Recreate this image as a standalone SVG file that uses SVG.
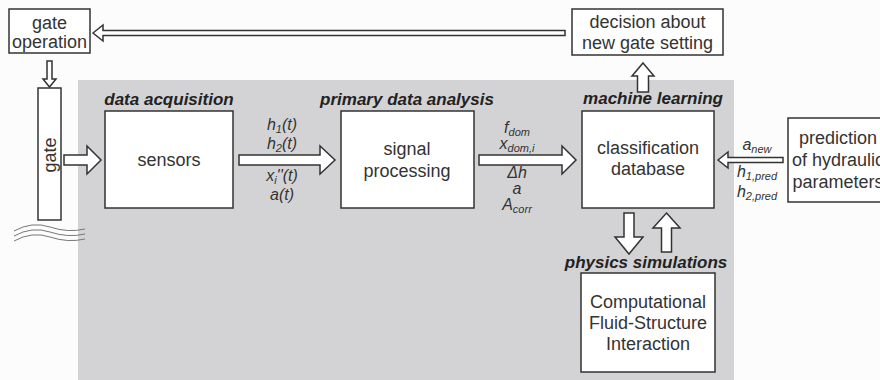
<svg xmlns="http://www.w3.org/2000/svg" width="880" height="380" viewBox="0 0 880 380">
<style>
.box{fill:#fff;stroke:#333;stroke-width:1.5}
.arr{fill:#fff;stroke:#333;stroke-width:1.5;stroke-linejoin:miter}
.t{font-family:"Liberation Sans",Arial,sans-serif;font-size:18px;fill:#333;text-anchor:middle}
.hd{font-family:"Liberation Sans",Arial,sans-serif;font-size:17px;font-weight:bold;font-style:italic;fill:#222;text-anchor:middle}
.lb{font-family:"Liberation Sans",Arial,sans-serif;font-size:16px;font-style:italic;fill:#333;text-anchor:middle}
.sub{font-size:11px}
.wave{fill:none;stroke:#777;stroke-width:1}
</style>
<rect width="880" height="380" fill="#fcfcfc"/>
<rect x="78" y="80" width="656" height="300" fill="#d3d3d5"/>

<g id="waves">
<path class="wave" d="M14,231 Q32,221 50,227 T85,229"/>
<path class="wave" d="M14,236 Q32,226 50,232 T85,234"/>
<path class="wave" d="M14,241 Q32,231 50,237 T85,239"/>
</g>

<g id="connectors">
<polygon class="arr" points="93,33 103,25 103,30.5 565,30.5 565,35.5 103,35.5 103,41"/>
<polygon class="arr" points="47,61 52,61 52,79 56,79 49.5,87 43,79 47,79"/>
<polygon class="arr" points="64,155 87,155 87,146 101,160 87,174 87,165 64,165"/>
<polygon class="arr" points="239,155 320,155 320,146 335,160 320,174 320,165 239,165"/>
<polygon class="arr" points="479,155 562,155 562,146 576,160 562,174 562,165 479,165"/>
<polygon class="arr" points="718,160 728,152 728,157.5 783,157.5 783,162.5 728,162.5 728,168"/>
<polygon class="arr" points="643,63 654,76 648.5,76 648.5,92 637.5,92 637.5,76 632,76"/>
<polygon class="arr" points="624,213 634,213 634,237 643,237 629,254 615,237 624,237"/>
<polygon class="arr" points="666.5,213 680,228 671.5,228 671.5,252 661.5,252 661.5,228 653,228"/>
</g>

<g id="labels">
<text class="lb" x="282" y="130">h<tspan class="sub" dy="3">1</tspan><tspan dy="-3">(t)</tspan></text>
<text class="lb" x="282" y="149">h<tspan class="sub" dy="3">2</tspan><tspan dy="-3">(t)</tspan></text>
<text class="lb" x="282" y="181">x<tspan class="sub" dy="3">i</tspan><tspan dy="-3">''(t)</tspan></text>
<text class="lb" x="282" y="200">a(t)</text>
<text class="lb" x="517" y="133">f<tspan class="sub" dy="3">dom</tspan></text>
<text class="lb" x="517" y="149">x<tspan class="sub" dy="3">dom,i</tspan></text>
<text class="lb" x="517" y="178">Δh</text>
<text class="lb" x="517" y="194">a</text>
<text class="lb" x="517" y="210">A<tspan class="sub" dy="3">corr</tspan></text>
<text class="lb" x="757" y="150">a<tspan class="sub" dy="3">new</tspan></text>
<text class="lb" x="757" y="177">h<tspan class="sub" dy="3">1,pred</tspan></text>
<text class="lb" x="757" y="197">h<tspan class="sub" dy="3">2,pred</tspan></text>
</g>

<g id="gate-operation">
<rect class="box" x="9" y="9" width="81" height="44"/>
<text class="t" x="49.5" y="29">gate</text>
<text class="t" x="49.5" y="48">operation</text>
</g>

<g id="decision">
<rect class="box" x="572" y="9" width="151" height="46"/>
<text class="t" x="647.5" y="28">decision about</text>
<text class="t" x="647.5" y="49">new gate setting</text>
</g>

<g id="gate">
<rect class="box" x="38" y="88" width="23" height="132"/>
<text class="t" transform="translate(55.5,155) rotate(-90)" x="0" y="0">gate</text>
</g>

<g id="sensors">
<text class="hd" x="169" y="105">data acquisition</text>
<rect class="box" x="105" y="111" width="128" height="97"/>
<text class="t" x="169" y="166">sensors</text>
</g>

<g id="signal-processing">
<text class="hd" x="407" y="105">primary data analysis</text>
<rect class="box" x="341" y="111" width="133" height="97"/>
<text class="t" x="407" y="155">signal</text>
<text class="t" x="407" y="177">processing</text>
</g>

<g id="classification">
<text class="hd" x="653" y="104">machine learning</text>
<rect class="box" x="582" y="111" width="132" height="97"/>
<text class="t" x="648" y="154">classification</text>
<text class="t" x="648" y="175">database</text>
</g>

<g id="prediction">
<rect class="box" x="788" y="118" width="102" height="84"/>
<text class="t" x="838" y="144">prediction</text>
<text class="t" x="838" y="166">of hydraulic</text>
<text class="t" x="838" y="188">parameters</text>
</g>

<g id="physics">
<text class="hd" x="646" y="268">physics simulations</text>
<rect class="box" x="581" y="273" width="134" height="99"/>
<text class="t" x="648" y="308">Computational</text>
<text class="t" x="648" y="329">Fluid-Structure</text>
<text class="t" x="648" y="350">Interaction</text>
</g>
</svg>
